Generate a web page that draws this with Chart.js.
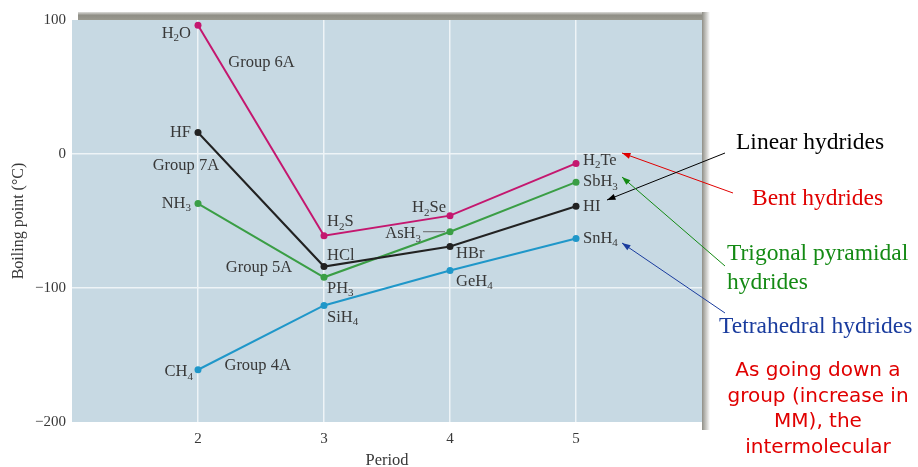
<!DOCTYPE html>
<html lang="en">
<head>
<meta charset="UTF-8">
<title>Boiling points of hydrides</title>
<script src="https://cdn.jsdelivr.net/npm/chart.js"></script>
<style>
  body { margin: 0; background: #fff; }
  canvas { display: block; }
</style>
</head>
<body>
<canvas id="grafico" width="918" height="467"></canvas>
<script>
// values (deg C)
const periods = [2, 3, 4, 5];
const group6A = [96, -61, -46, -7];
const group7A = [16, -84, -69, -39];
const group5A = [-37, -92, -58, -21];
const group4A = [-161, -113, -87, -63];
const names6A = ['H2O', 'H2S', 'H2Se', 'H2Te'];
const names7A = ['HF', 'HCl', 'HBr', 'HI'];
const names5A = ['NH3', 'PH3', 'AsH3', 'SbH3'];
const names4A = ['CH4', 'SiH4', 'GeH4', 'SnH4'];
const groupNames = ['Group 6A', 'Group 7A', 'Group 5A', 'Group 4A'];
const yTicks = [-200, -100, 0, 100];

const serif = "'Liberation Serif', 'Times New Roman', serif";
const textCol = '#383838';

// label offsets from the point: dx, dy, align
const labelPos = {
  H2O: [-7, 8, 'right'], HF: [-7, 0, 'right'], NH3: [-7, 0, 'right'], CH4: [-5, 2, 'right'],
  H2S: [3, -14, 'left'], HCl: [3, -11, 'left'], PH3: [3, 11, 'left'], SiH4: [3, 12, 'left'],
  H2Se: [-4, -8, 'right'], AsH3: [-29, 2, 'right'], HBr: [6, 7, 'left'], GeH4: [6, 11, 'left'],
  H2Te: [7, -3, 'left'], SbH3: [7, 0, 'left'], HI: [7, 0, 'left'], SnH4: [7, 0, 'left']
};
// group label anchors in data units (left edge)
const groupPos = [[2.24, 68], [1.64, -9], [2.22, -85], [2.21, -158]];

function drawChem(ctx, txt, x, y, align) {
  const parts = txt.split(/(\d)/).filter(p => p);
  const big = '16.5px ' + serif, small = '11px ' + serif;
  let w = 0;
  parts.forEach(p => { ctx.font = /\d/.test(p) ? small : big; w += ctx.measureText(p).width; });
  let cx = align === 'right' ? x - w : x;
  ctx.textAlign = 'left';
  ctx.textBaseline = 'middle';
  parts.forEach(p => {
    const sub = /\d/.test(p);
    ctx.font = sub ? small : big;
    ctx.fillText(p, cx, sub ? y + 5 : y);
    cx += ctx.measureText(p).width;
  });
}

function arrow(ctx, x1, y1, x2, y2, col) {
  ctx.strokeStyle = col; ctx.fillStyle = col; ctx.lineWidth = 1;
  ctx.beginPath(); ctx.moveTo(x1, y1); ctx.lineTo(x2, y2); ctx.stroke();
  const a = Math.atan2(y2 - y1, x2 - x1), L = 9, W = 0.35;
  ctx.beginPath();
  ctx.moveTo(x2, y2);
  ctx.lineTo(x2 - L * Math.cos(a - W), y2 - L * Math.sin(a - W));
  ctx.lineTo(x2 - L * Math.cos(a + W), y2 - L * Math.sin(a + W));
  ctx.closePath(); ctx.fill();
}

const fondo = {
  id: 'fondo',
  beforeDraw(chart) {
    const { ctx, chartArea: a } = chart;
    ctx.save();
    // drop shadow top and right
    let g = ctx.createLinearGradient(0, a.top - 8, 0, a.top);
    g.addColorStop(0, 'rgba(143,142,134,0.3)'); g.addColorStop(0.4, '#8f8e86'); g.addColorStop(1, '#9a998f');
    ctx.fillStyle = g;
    ctx.fillRect(a.left + 6, a.top - 8, a.right - a.left - 6, 8);
    g = ctx.createLinearGradient(a.right, 0, a.right + 8, 0);
    g.addColorStop(0, '#8f8e86'); g.addColorStop(1, 'rgba(143,142,134,0)');
    ctx.fillStyle = g;
    ctx.fillRect(a.right, a.top - 8, 8, a.bottom - a.top + 16);
    ctx.fillStyle = '#c7d9e3';
    ctx.fillRect(a.left, a.top, a.right - a.left, a.bottom - a.top);
    ctx.restore();
  }
};

const rotulos = {
  id: 'rotulos',
  afterDatasetsDraw(chart) {
    const { ctx, scales: { x, y } } = chart;
    ctx.save();
    ctx.fillStyle = textCol;
    chart.data.datasets.forEach((ds, i) => {
      const meta = chart.getDatasetMeta(i);
      ds.names.forEach((n, j) => {
        const p = meta.data[j], o = labelPos[n];
        drawChem(ctx, n, p.x + o[0], p.y + o[1], o[2]);
        if (n === 'AsH3') {
          ctx.strokeStyle = '#666'; ctx.lineWidth = 1;
          ctx.beginPath(); ctx.moveTo(p.x - 27, p.y); ctx.lineTo(p.x - 5, p.y); ctx.stroke();
        }
      });
      ctx.font = '16.5px ' + serif; ctx.fillStyle = textCol;
      ctx.textAlign = 'left'; ctx.textBaseline = 'middle';
      ctx.fillText(groupNames[i], x.getPixelForValue(groupPos[i][0]), y.getPixelForValue(groupPos[i][1]));
    });

    // notes on the right
    ctx.textBaseline = 'middle';
    ctx.font = '23.5px ' + serif;
    ctx.fillStyle = '#000'; ctx.fillText('Linear hydrides', 736, 143);
    ctx.fillStyle = '#e00000'; ctx.fillText('Bent hydrides', 752, 199);
    ctx.fillStyle = '#148a14'; ctx.fillText('Trigonal pyramidal', 727, 254); ctx.fillText('hydrides', 727, 283);
    ctx.fillStyle = '#1a3c9e'; ctx.fillText('Tetrahedral hydrides', 719, 327);
    arrow(ctx, 733, 193, 622, 153, '#e00000');
    arrow(ctx, 725, 153, 607, 200, '#000');
    arrow(ctx, 725, 266, 622, 177, '#148a14');
    arrow(ctx, 725, 313, 622, 243, '#1a3c9e');

    ctx.fillStyle = '#e00000';
    ctx.textAlign = 'center';
    ctx.font = "20px 'DejaVu Sans', sans-serif";
    ['As going down a', 'group (increase in', 'MM), the', 'intermolecular']
      .forEach((t, k) => ctx.fillText(t, 818, [371, 397, 422, 448][k]));
    ctx.restore();
  }
};

const serie = (vals, names, col) => ({
  data: vals.map((v, i) => ({ x: periods[i], y: v })),
  names: names,
  borderColor: col,
  backgroundColor: col,
  borderWidth: 2,
  pointRadius: 3.5,
  pointBorderWidth: 0,
  tension: 0
});

new Chart(document.getElementById('grafico'), {
  type: 'line',
  data: {
    datasets: [
      serie(group6A, names6A, '#c4176f'),
      serie(group7A, names7A, '#222222'),
      serie(group5A, names5A, '#3a9e45'),
      serie(group4A, names4A, '#1f97c9')
    ]
  },
  options: {
    responsive: false,
    animation: false,
    layout: { padding: { top: 20, right: 216, bottom: 0, left: 0 } },
    plugins: { legend: { display: false }, tooltip: { enabled: false } },
    scales: {
      x: {
        type: 'linear', min: 1, max: 6,
        afterBuildTicks: s => { s.ticks = periods.map(v => ({ value: v })); },
        afterFit: s => { s.height = 45; },
        grid: { color: '#eef4f7', lineWidth: 1.5, drawTicks: false },
        border: { display: false },
        ticks: { color: textCol, font: { family: serif, size: 15 }, padding: 8 },
        title: { display: true, text: 'Period', color: textCol, font: { family: serif, size: 16.5 }, padding: { top: 0, bottom: -4 } }
      },
      y: {
        min: -200, max: 100,
        afterBuildTicks: s => { s.ticks = yTicks.map(v => ({ value: v })); },
        afterFit: s => { s.width = 72; },
        grid: {
          color: c => (c.tick && (c.tick.value === 0 || c.tick.value === -100)) ? '#eef4f7' : 'rgba(0,0,0,0)',
          lineWidth: 1.5, drawTicks: false
        },
        border: { display: false },
        ticks: { color: textCol, font: { family: serif, size: 15 }, padding: 6,
          callback: v => String(v).replace('-', '\u2212') },
        title: { display: true, text: 'Boiling point (\u00B0C)', color: textCol, font: { family: serif, size: 16 }, padding: { top: 9, bottom: 4 } }
      }
    }
  },
  plugins: [fondo, rotulos]
});
</script>
</body>
</html>
